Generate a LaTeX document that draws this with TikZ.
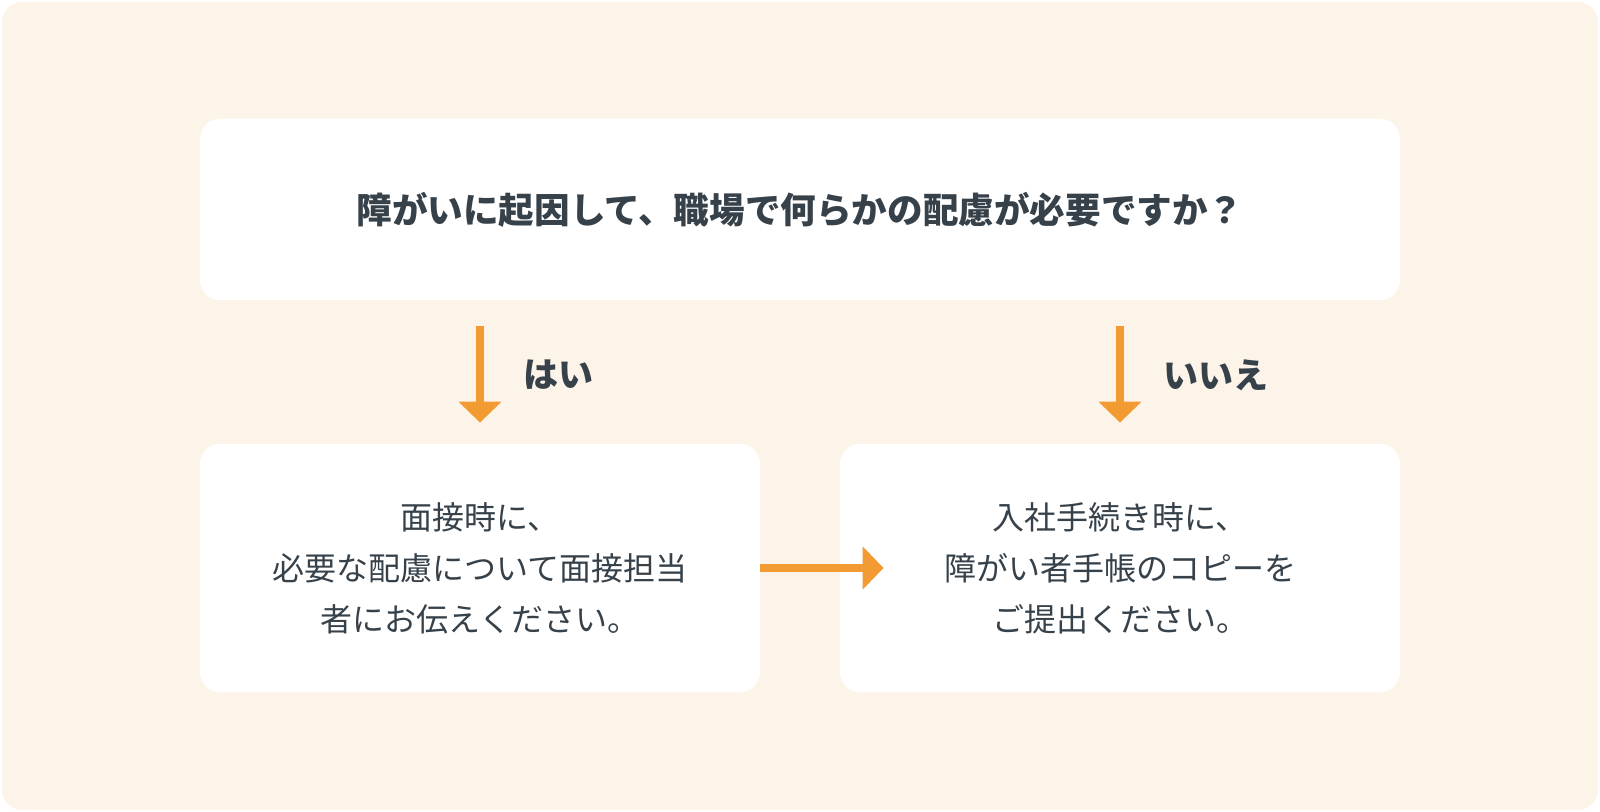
\documentclass[tikz,border=0pt]{standalone}
\usepackage{fontspec}
\setmainfont{Noto Sans CJK JP}
\usepackage{tikz}
\usetikzlibrary{arrows.meta,positioning,calc}
\definecolor{bgcol}{HTML}{FDF4E9}
\definecolor{arrowcol}{HTML}{F29B33}
\definecolor{txtcol}{HTML}{36414A}

\begin{document}
\begin{tikzpicture}[x=0.5pt,y=-0.5pt,
    box/.style={fill=white, rounded corners=10pt, text=txtcol, align=center, inner sep=0pt},
    flow/.style={draw=arrowcol, line width=4pt, -{Triangle[width=21pt,length=10.5pt]}},
    ans/.style={text=txtcol, font=\fontsize{17.5}{21}\selectfont\bfseries, inner sep=0pt, anchor=west}]

    \useasboundingbox (0,0) rectangle (1600,812);
    \fill [bgcol, rounded corners=10pt] (2,2) rectangle (1598,810);

    \node [box, minimum width=600pt, minimum height=90.5pt, font=\fontsize{17.8}{21}\selectfont\bfseries] (q) at (800,209.5) {障がいに起因して、職場で何らかの配慮が必要ですか？};
    \node [box, minimum width=280pt, minimum height=124pt, font=\fontsize{16}{25.5}\selectfont] (yes) at (480,568) {面接時に、\\必要な配慮について面接担当\\者にお伝えください。};
    \node [box, minimum width=280pt, minimum height=124pt, font=\fontsize{16}{25.5}\selectfont] (no) at (1120,568) {入社手続き時に、\\障がい者手帳のコピーを\\ご提出ください。};

    \node [ans] (hai) at (523,375) {はい};
    \node [ans] (iie) at (1163,375) {いいえ};

    \draw [flow, shorten <=13pt, shorten >=10.5pt] (q.south -| yes.north) -- (yes.north);
    \draw [flow, shorten <=13pt, shorten >=10.5pt] (q.south -| no.north) -- (no.north);
    \draw [flow, shorten >=-22pt] (yes.east) -- (no.west);
\end{tikzpicture}
\end{document}
